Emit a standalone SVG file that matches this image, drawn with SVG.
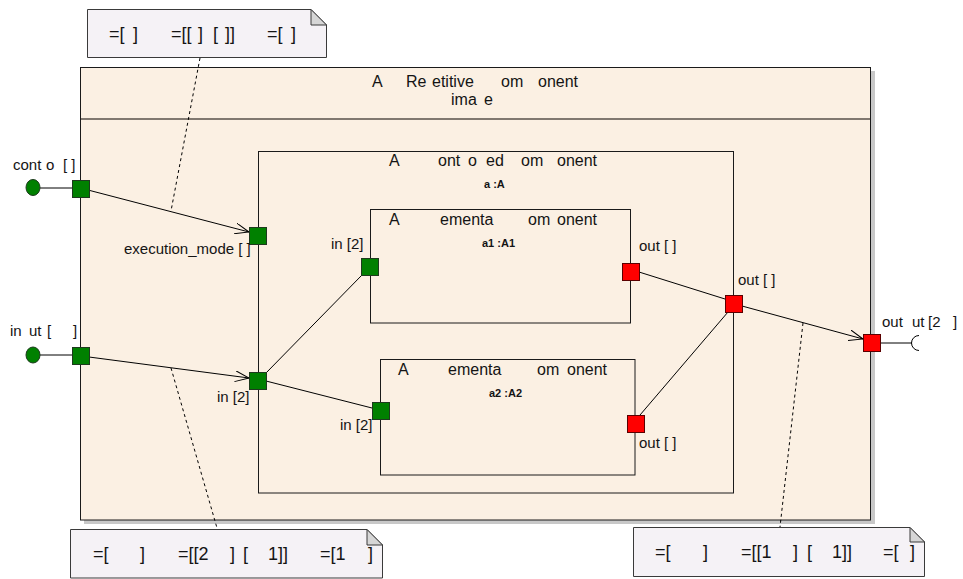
<svg xmlns="http://www.w3.org/2000/svg" width="963" height="579" viewBox="0 0 963 579">
<style>
text{font-family:"Liberation Sans",Arial,sans-serif;fill:#141414}
.t16{font-size:16px}
.lbl{font-size:15px}
.b{font-size:11px;font-weight:bold}
.nt{font-size:18px}
.outer{fill:#FBF0E3;stroke:#1a1a1a;stroke-width:1}
.shadow{fill:#C8C8C8}
.box{fill:none;stroke:#1a1a1a;stroke-width:1}
.pin{fill:#008000;stroke:#1E3A1E;stroke-width:1}
.pout{fill:#FF0000;stroke:#5A0000;stroke-width:1}
.con{stroke:#000;stroke-width:1;fill:none}
.dash{stroke:#000;stroke-width:1;stroke-dasharray:3 3;fill:none}
.note{fill:#F5F2F6;stroke:#3a3a3a;stroke-width:1}
.fold{fill:#D6D6D6;stroke:#3a3a3a;stroke-width:1}
</style>
<defs>
<marker id="arr" viewBox="0 0 15 11" refX="14" refY="5.5" markerWidth="15" markerHeight="11" orient="auto" markerUnits="userSpaceOnUse">
<path d="M0,0 L14,5.5 L0,11" fill="none" stroke="#000" stroke-width="1"/>
</marker>
</defs>

<g id="repetitive">
<rect class="shadow" x="84" y="71" width="791" height="453"/>
<rect class="outer" x="80.5" y="67.5" width="790" height="452.5"/>
<line x1="81" y1="119" x2="870" y2="119" stroke="#807870" stroke-width="2"/>
<text class="t16" y="87"><tspan x="372">A</tspan> <tspan x="406">Re</tspan> <tspan x="432">etitive</tspan> <tspan x="501">om</tspan> <tspan x="538">onent</tspan></text>
<text class="t16" y="105"><tspan x="451">ima</tspan> <tspan x="484">e</tspan></text>
</g>

<g id="controlled">
<rect class="box" x="258.5" y="151.5" width="475" height="341.5"/>
<text class="t16" y="166"><tspan x="389">A</tspan> <tspan x="438">ont</tspan> <tspan x="468">o</tspan> <tspan x="486">ed</tspan> <tspan x="521">om</tspan> <tspan x="557">onent</tspan></text>
<text class="b" x="484" y="188">a :A</text>
</g>

<g id="a1">
<rect class="box" x="370.5" y="209.5" width="260" height="113.5"/>
<text class="t16" y="225"><tspan x="389">A</tspan> <tspan x="440">ementa</tspan> <tspan x="528">om</tspan> <tspan x="557">onent</tspan></text>
<text class="b" x="482" y="247">a1 :A1</text>
</g>

<g id="a2">
<rect class="box" x="380.5" y="359.5" width="254.5" height="115.5"/>
<text class="t16" y="375"><tspan x="398">A</tspan> <tspan x="448">ementa</tspan> <tspan x="537">om</tspan> <tspan x="567">onent</tspan></text>
<text class="b" x="489" y="397">a2 :A2</text>
</g>

<g id="connectors">
<line class="con" x1="40" y1="188" x2="72" y2="188"/>
<line class="con" x1="40" y1="355" x2="72" y2="355"/>
<line class="con" x1="880" y1="343" x2="912" y2="343"/>
<path class="con" d="M919,335.5 A7.5,7.5 0 0 0 919,350.5"/>
<path class="con" d="M88,190 L249,232" marker-end="url(#arr)"/>
<path class="con" d="M89,357 L249,378" marker-end="url(#arr)"/>
<path class="con" d="M266,373 L362,275"/>
<path class="con" d="M266,381 L372,408"/>
<path class="con" d="M639,272 L725,299"/>
<path class="con" d="M640,415 L728,312"/>
<path class="con" d="M742,306 L863,339" marker-end="url(#arr)"/>
<path class="dash" d="M200,58 L171,211"/>
<path class="dash" d="M171,368 L217,528"/>
<path class="dash" d="M803,323 L780,527"/>
</g>

<g id="port-control">
<ellipse class="pin" cx="33" cy="187.5" rx="7" ry="8"/>
<rect class="pin" x="72.5" y="180.5" width="17" height="17"/>
<text class="lbl" y="170"><tspan x="13">cont</tspan> <tspan x="46">o</tspan> <tspan x="63">[ ]</tspan></text>
</g>
<g id="port-input">
<ellipse class="pin" cx="33" cy="355" rx="7" ry="8"/>
<rect class="pin" x="72.5" y="347.5" width="17" height="17"/>
<text class="lbl" y="336"><tspan x="10">in</tspan> <tspan x="29">ut</tspan> <tspan x="47">[</tspan> <tspan x="73">]</tspan></text>
</g>
<g id="port-execution-mode">
<rect class="pin" x="249.5" y="227.5" width="17" height="17"/>
<text class="lbl" x="124" y="254">execution_mode [ ]</text>
</g>
<g id="port-a-in">
<rect class="pin" x="249.5" y="372.5" width="17" height="17"/>
<text class="lbl" x="217" y="402">in [2]</text>
</g>
<g id="port-a1-in">
<rect class="pin" x="361.5" y="258.5" width="17" height="17"/>
<text class="lbl" x="331" y="249">in [2]</text>
</g>
<g id="port-a1-out">
<rect class="pout" x="622.5" y="263.5" width="17" height="17"/>
<text class="lbl" x="639" y="251">out [ ]</text>
</g>
<g id="port-a2-in">
<rect class="pin" x="372.5" y="402.5" width="17" height="17"/>
<text class="lbl" x="340" y="430">in [2]</text>
</g>
<g id="port-a2-out">
<rect class="pout" x="627.5" y="415.5" width="17" height="17"/>
<text class="lbl" x="639" y="448">out [ ]</text>
</g>
<g id="port-a-out">
<rect class="pout" x="725.5" y="295.5" width="17" height="17"/>
<text class="lbl" x="738" y="285">out [ ]</text>
</g>
<g id="port-output">
<rect class="pout" x="863.5" y="334.5" width="17" height="17"/>
<text class="lbl" y="327"><tspan x="882">out</tspan> <tspan x="912">ut</tspan> <tspan x="928">[2</tspan> <tspan x="953">]</tspan></text>
</g>

<g id="note-top">
<path class="note" d="M87.5,9.5 H311 L326.5,25 V57.5 H87.5 Z"/>
<path class="fold" d="M311,9.5 V25 H326.5 Z"/>
<text class="nt" y="40"><tspan x="109">=[</tspan> <tspan x="133">]</tspan> <tspan x="171">=[[</tspan> <tspan x="198">]</tspan> <tspan x="213">[</tspan> <tspan x="225">]]</tspan> <tspan x="267">=[</tspan> <tspan x="291">]</tspan></text>
</g>
<g id="note-bottom-left">
<path class="note" d="M70.5,529.5 H367 L382.5,545 V578 H70.5 Z"/>
<path class="fold" d="M367,529.5 V545 H382.5 Z"/>
<text class="nt" y="560"><tspan x="93">=[</tspan> <tspan x="140">]</tspan> <tspan x="178">=[[2</tspan> <tspan x="230">]</tspan> <tspan x="243">[</tspan> <tspan x="268">1]]</tspan> <tspan x="320">=[1</tspan> <tspan x="368">]</tspan></text>
</g>
<g id="note-bottom-right">
<path class="note" d="M633.5,527.5 H910 L924.5,542 V576.5 H633.5 Z"/>
<path class="fold" d="M910,527.5 V542 H924.5 Z"/>
<text class="nt" y="558"><tspan x="655">=[</tspan> <tspan x="703">]</tspan> <tspan x="741">=[[1</tspan> <tspan x="793">]</tspan> <tspan x="807">[</tspan> <tspan x="832">1]]</tspan> <tspan x="883">=[</tspan> <tspan x="910">]</tspan></text>
</g>
</svg>
